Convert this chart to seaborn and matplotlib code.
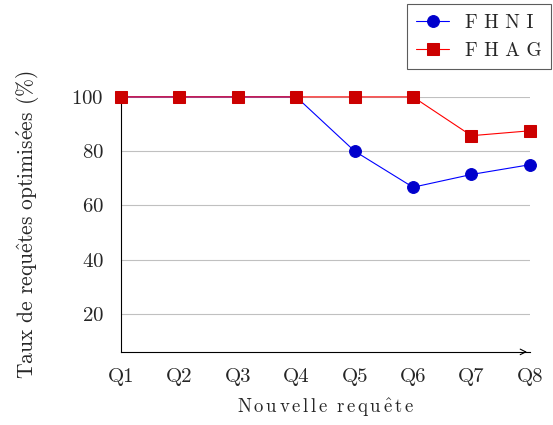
import pandas as pd
import matplotlib.pyplot as plt
import seaborn as sns

# data
queries = ["Q1", "Q2", "Q3", "Q4", "Q5", "Q6", "Q7", "Q8"]
fhni = [100, 100, 100, 100, 80, 66.7, 71.4, 75]
fhag = [100, 100, 100, 100, 100, 100, 85.7, 87.5]

sns.set_style("white")
plt.rcParams['font.family'] = ['cmr10', 'DejaVu Serif']
plt.rcParams['mathtext.fontset'] = 'cm'
plt.rcParams['axes.formatter.use_mathtext'] = True

x = list(range(len(queries)))
df = pd.DataFrame({"x": x, "FHNI": fhni, "FHAG": fhag})

fig = plt.figure(figsize=(5.53, 4.25), dpi=100)
ax = fig.add_axes([0.219, 0.172, 0.739, 0.60])

sns.lineplot(data=df, x="x", y="FHNI", ax=ax, color="#0000ff", lw=0.8,
             marker="o", markersize=8.5, markerfacecolor="#0000cc",
             markeredgecolor="#0000cc", label="F H N I", clip_on=False, zorder=3)
sns.lineplot(data=df, x="x", y="FHAG", ax=ax, color="#ff0000", lw=0.8,
             marker="s", markersize=8, markerfacecolor="#cc0000",
             markeredgecolor="#cc0000", label="F H A G", clip_on=False, zorder=4)

ax.set_xlim(0, 7)
ax.set_ylim(6, 100)
ax.set_xticks(x)
ax.set_xticklabels(queries)
ax.set_yticks([20, 40, 60, 80, 100])
ax.grid(axis="y", color="#c0c0c0", lw=0.8)
ax.grid(axis="x", visible=False)
for s in ["top", "right"]:
    ax.spines[s].set_visible(False)
for s in ["left", "bottom"]:
    ax.spines[s].set_color("black")
    ax.spines[s].set_linewidth(0.8)
ax.tick_params(axis="both", direction="inout", length=5, width=0.5,
               color="#555555", labelsize=15)
ax.tick_params(axis="y", pad=10)
ax.tick_params(axis="x", pad=9)
ax.annotate("", xy=(1.0, 0), xytext=(0.98, 0), xycoords="axes fraction",
            arrowprops=dict(arrowstyle="->", color="black", lw=0.8))

ax.set_xlabel(r"$\mathrm{N\,o\,u\,v\,e\,l\,l\,e\;\;r\,e\,q\,u\,\hat{e}\,t\,e}$",
              fontsize=13.5, labelpad=8)
ax.set_ylabel(r"Taux de requ$\hat{\rm e}$tes optimis$\acute{\rm e}$es (%)",
              fontsize=15.5, labelpad=22)

ax.legend(loc="upper right", bbox_to_anchor=(0.997, 0.99),
          bbox_transform=fig.transFigure, frameon=True, fancybox=False,
          edgecolor="#333333", fontsize=14, handlelength=1.7,
          borderpad=0.5, labelspacing=0.5, borderaxespad=0)
leg = ax.get_legend()
leg.get_frame().set_linewidth(0.8)

fig.savefig("out.png", dpi=100)
